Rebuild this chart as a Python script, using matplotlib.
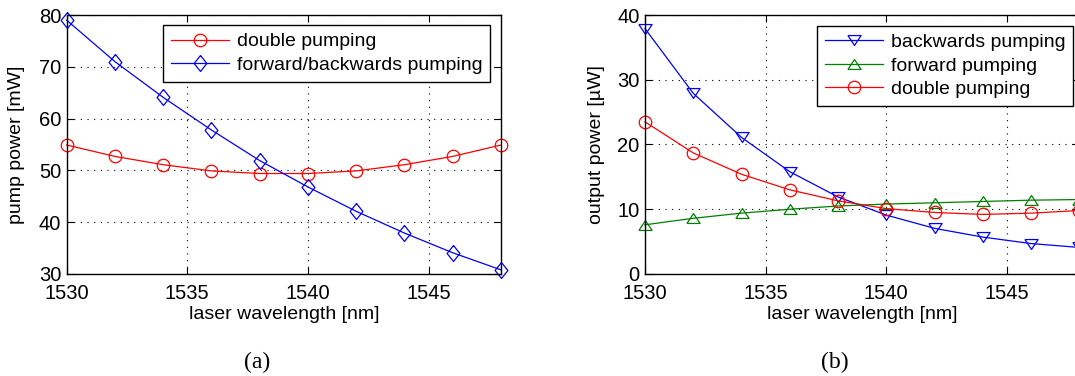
import matplotlib

matplotlib.use("Agg")

import matplotlib.pyplot as plt

# wavelength samples [nm]
WAVELENGTH = [1530, 1532, 1534, 1536, 1538, 1540, 1542, 1544, 1546, 1548]

# (a) pump power [mW]
PUMP_DOUBLE = [54.9, 52.7, 51.1, 49.9, 49.4, 49.4, 49.9, 51.1, 52.7, 54.9]
PUMP_FWD_BWD = [79.0, 71.0, 64.1, 57.8, 51.9, 46.8, 42.1, 37.9, 34.1, 30.8]

# (b) output power [uW]
OUT_BACKWARDS = [37.9, 27.9, 21.1, 15.8, 11.9, 9.1, 7.05, 5.7, 4.7, 4.1]
OUT_FORWARD = [7.6, 8.6, 9.4, 10.0, 10.5, 10.8, 11.0, 11.2, 11.4, 11.5]
OUT_DOUBLE = [23.5, 18.7, 15.4, 13.0, 11.3, 10.1, 9.5, 9.2, 9.4, 9.8]

X_TICKS = [1530, 1535, 1540, 1545]
PUMP_TICKS = [30, 40, 50, 60, 70, 80]
OUT_TICKS = [0, 10, 20, 30, 40]

RED = "#ff0000"
BLUE = "#0000ff"
GREEN = "#008000"
SANS = ["Liberation Sans", "DejaVu Sans"]
SERIF = ["Liberation Serif", "DejaVu Serif"]

# matlab-like marker shapes (diamond is taller than wide, triangles flat)
DIAMOND = [(0, 1), (0.8, 0), (0, -1), (-0.8, 0), (0, 1)]
TRI_DOWN = [(-1, 0.75), (1, 0.75), (0, -0.75), (-1, 0.75)]
TRI_UP = [(-1, -0.75), (1, -0.75), (0, 0.75), (-1, -0.75)]
MARKER_SIZE = {"o": 9, "diamond": 11.5, "tri": 9.5}

plt.rcParams["font.family"] = SANS
plt.rcParams["font.size"] = 14


def _style_axes(ax, yticks):
    ax.set_xlim(1530, 1548)
    ax.set_ylim(yticks[0], yticks[-1])
    ax.set_xticks(X_TICKS)
    ax.set_yticks(yticks)
    ax.tick_params(direction="in", top=True, right=True, length=5,
                   width=0.8, labelsize=14.5)
    ax.tick_params(axis="x", pad=7)
    ax.tick_params(axis="y", pad=4)
    for spine in ax.spines.values():
        spine.set_linewidth(1.0)
    ax.grid(True, color="black", linestyle=(0, (1, 5)), linewidth=0.8)
    ax.set_axisbelow(True)
    ax.set_xlabel("laser wavelength [nm]", fontsize=14)
    ax.xaxis.set_label_coords(0.5, -0.122)


def _plot(ax, y, color, marker, size, label):
    ax.plot(WAVELENGTH, y, color=color, linewidth=0.9, marker=marker,
            markersize=size, markerfacecolor="none", markeredgecolor=color,
            markeredgewidth=0.9, label=label, clip_on=False)


def _legend(ax, anchor):
    leg = ax.legend(loc="upper right", bbox_to_anchor=anchor, fontsize=14,
                    frameon=True, fancybox=False, framealpha=1,
                    handlelength=3.0, borderpad=0.4, labelspacing=0.3,
                    handletextpad=0.4, borderaxespad=0)
    leg.get_frame().set_edgecolor("black")
    leg.get_frame().set_linewidth(1.0)


fig = plt.figure(figsize=(10.75, 3.76), dpi=100)

ax_a = fig.add_axes([0.062, 0.2713, 0.404, 0.6888])
_plot(ax_a, PUMP_DOUBLE, RED, "o", MARKER_SIZE["o"], "double pumping")
_plot(ax_a, PUMP_FWD_BWD, BLUE, DIAMOND, MARKER_SIZE["diamond"],
      "forward/backwards pumping")
_style_axes(ax_a, PUMP_TICKS)
ax_a.set_ylabel("pump power [mW]", fontsize=14)
ax_a.yaxis.set_label_coords(-0.096, 0.5)
_legend(ax_a, (0.975, 0.961))

ax_b = fig.add_axes([0.6, 0.2713, 0.404, 0.6888])
_plot(ax_b, OUT_BACKWARDS, BLUE, TRI_DOWN, MARKER_SIZE["tri"],
      "backwards pumping")
_plot(ax_b, OUT_FORWARD, GREEN, TRI_UP, MARKER_SIZE["tri"],
      "forward pumping")
_plot(ax_b, OUT_DOUBLE, RED, "o", MARKER_SIZE["o"], "double pumping")
_style_axes(ax_b, OUT_TICKS)
ax_b.set_ylabel("output power [\u00b5W]", fontsize=14)
ax_b.yaxis.set_label_coords(-0.092, 0.5)
_legend(ax_b, (0.986, 0.958))

fig.text(257 / 1075, 1 - 362 / 376, "(a)", ha="center", va="center",
         fontsize=17, family=SERIF)
fig.text(835 / 1075, 1 - 362 / 376, "(b)", ha="center", va="center",
         fontsize=17, family=SERIF)

fig.savefig("out.png", dpi=100)
plt.close(fig)
